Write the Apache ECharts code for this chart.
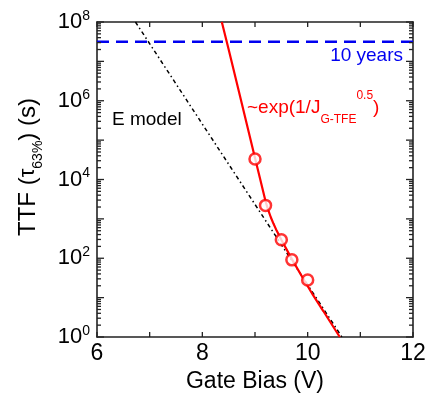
<!DOCTYPE html>
<html>
<head>
<meta charset="utf-8">
<script src="https://cdn.jsdelivr.net/npm/echarts@6/dist/echarts.min.js"></script>
<style>
  html, body { margin: 0; padding: 0; background: #fff; }
  #chart { width: 433px; height: 401px; }
</style>
</head>
<body>
<div id="chart"></div>
<script>
const FONT = '"Liberation Sans", Arial, Helvetica, sans-serif';

// Measured 63% time-to-failure (s) at each gate bias (V)
const measuredBias = [9.0, 9.2, 9.5, 9.7, 10.0];
const measuredTTF = [3.3e4, 2.2e3, 295, 91, 28];

// ~exp(1/J_G-TFE^0.5) lifetime curve
const fitBias = [8.37, 8.5, 8.7, 8.9, 9.0, 9.1, 9.2, 9.25, 9.3, 9.35, 9.4, 9.45, 9.5, 9.7, 9.9, 10.1, 10.3, 10.61];
const fitTTF = [1e8, 2.0e7, 1.6e6, 1.26e5, 3.5e4, 1.0e4, 2.8e3, 1.7e3, 1.1e3, 760, 540, 400, 295, 95, 33, 11.7, 4.5, 1];

// E-model extrapolation
const eModelBias = [6.73, 10.65];
const eModelTTF = [1e8, 1];

// 10-year lifetime target (s)
const targetBias = [6, 12];
const targetTTF = [3.15e7, 3.15e7];

// Axis ranges and ticks
const xMin = 6, xMax = 12, xStep = 1;
const xTickValues = [6, 7, 8, 9, 10, 11, 12];
const xLabelled = [6, 8, 10, 12];
const yMin = 1, yMax = 1e8;
const yMajorExp = [0, 1, 2, 3, 4, 5, 6, 7, 8];
const yLabelledExp = [0, 2, 4, 6, 8];
const minorMantissas = [2, 3, 4, 5, 6, 7, 8, 9];

const zip = (a, b) => a.map((v, i) => [v, b[i]]);

const AXIS_COLOR = '#222';
const RED = '#ff0000';
const BLUE = '#0000f0';

const chart = echarts.init(document.getElementById('chart'), null, { renderer: 'canvas' });

const frameAxis = (extra) => Object.assign({
  splitLine: { show: false },
  axisTick: { show: false },
  axisLine: { show: true, onZero: false, lineStyle: { color: AXIS_COLOR, width: 1.6 } }
}, extra);

chart.setOption({
  animation: false,
  backgroundColor: '#fff',
  grid: { left: 97, right: 20, top: 22, bottom: 64, containLabel: false },
  xAxis: [
    frameAxis({
      type: 'value', min: xMin, max: xMax, interval: xStep, position: 'bottom',
      name: 'Gate Bias (V)', nameLocation: 'middle', nameGap: 31,
      nameTextStyle: { fontFamily: FONT, fontSize: 23, color: '#000' },
      axisLabel: {
        margin: 5, fontFamily: FONT, fontSize: 23, color: '#000',
        formatter: v => (xLabelled.indexOf(v) >= 0 ? String(v) : '')
      }
    }),
    frameAxis({ type: 'value', min: xMin, max: xMax, interval: xStep, position: 'top', axisLabel: { show: false } })
  ],
  yAxis: [
    frameAxis({
      type: 'log', logBase: 10, min: yMin, max: yMax, interval: 1, position: 'left',
      axisLabel: {
        margin: 7, color: '#000',
        formatter: v => {
          const e = Math.round(Math.log10(v));
          return yLabelledExp.indexOf(e) >= 0 ? '{b|10}{e|' + e + '}' : '';
        },
        rich: {
          b: { fontFamily: FONT, fontSize: 22, lineHeight: 26, color: '#000' },
          e: { fontFamily: FONT, fontSize: 14, lineHeight: 14, verticalAlign: 'top', color: '#000' }
        }
      }
    }),
    frameAxis({ type: 'log', logBase: 10, min: yMin, max: yMax, interval: 1, position: 'right', axisLabel: { show: false } })
  ],
  series: [
    {
      type: 'line', name: '10 years',
      data: zip(targetBias, targetTTF),
      symbol: 'none',
      lineStyle: { color: BLUE, width: 2.6, type: [12, 7] }
    },
    {
      type: 'line', name: 'E model',
      data: zip(eModelBias, eModelTTF),
      symbol: 'none',
      lineStyle: { color: '#000', width: 1.5, type: [4, 3, 1.5, 3] }
    },
    {
      type: 'line', name: 'fit',
      data: zip(fitBias, fitTTF),
      symbol: 'none',
      lineStyle: { color: RED, width: 2.2 }
    },
    {
      type: 'scatter', name: 'measured',
      data: zip(measuredBias, measuredTTF),
      symbol: 'circle', symbolSize: 11,
      itemStyle: { color: '#fff', borderColor: RED, borderWidth: 2.5 },
      z: 5
    }
  ]
});

// Inward ticks on all four sides of the frame, placed through the axis scales
const toPxX = v => chart.convertToPixel({ xAxisIndex: 0 }, v);
const toPxY = v => chart.convertToPixel({ yAxisIndex: 0 }, v);
const frameLeft = toPxX(xMin), frameRight = toPxX(xMax);
const frameTop = toPxY(yMax), frameBottom = toPxY(yMin);
const tickStyle = { stroke: AXIS_COLOR, lineWidth: 1.3 };
const tickLine = (x1, y1, x2, y2) => ({ type: 'line', silent: true, z: 10, shape: { x1, y1, x2, y2 }, style: tickStyle });

const frameTicks = [];
xTickValues.forEach(v => {
  const x = toPxX(v);
  frameTicks.push(tickLine(x, frameBottom, x, frameBottom - 5));
  frameTicks.push(tickLine(x, frameTop, x, frameTop + 5));
});
yMajorExp.forEach(e => {
  const y = toPxY(Math.pow(10, e));
  frameTicks.push(tickLine(frameLeft, y, frameLeft + 7, y));
  frameTicks.push(tickLine(frameRight, y, frameRight - 7, y));
});
yMajorExp.slice(0, -1).forEach(e => {
  minorMantissas.forEach(m => {
    const y = toPxY(m * Math.pow(10, e));
    frameTicks.push(tickLine(frameLeft, y, frameLeft + 4, y));
    frameTicks.push(tickLine(frameRight, y, frameRight - 4, y));
  });
});

const annotations = [
  {
    type: 'text', x: 28, y: 167, rotation: Math.PI / 2, z: 10,
    style: {
      text: '{a|TTF (}{t|τ}{s|63%}{a|) (s)}',
      align: 'center', verticalAlign: 'middle',
      rich: {
        a: { fontFamily: FONT, fontSize: 24, lineHeight: 34, fill: '#000' },
        t: { fontFamily: FONT, fontSize: 22, lineHeight: 34, fill: '#000' },
        s: { fontFamily: FONT, fontSize: 14, lineHeight: 14, verticalAlign: 'bottom', fill: '#000' }
      }
    }
  },
  {
    type: 'text', x: 403, y: 56, z: 10,
    style: { text: '10 years', fontFamily: FONT, fontSize: 19, fill: BLUE, align: 'right', verticalAlign: 'middle' }
  },
  {
    type: 'text', x: 247, y: 107.5, z: 10,
    style: {
      text: '{a|~exp(1/J}{s|G-TFE}{p|0.5}{a|)}',
      align: 'left', verticalAlign: 'middle',
      rich: {
        a: { fontFamily: FONT, fontSize: 19, lineHeight: 36, fill: RED },
        s: { fontFamily: FONT, fontSize: 12, lineHeight: 20, verticalAlign: 'bottom', fill: RED },
        p: { fontFamily: FONT, fontSize: 12, lineHeight: 20, verticalAlign: 'top', fill: RED }
      }
    }
  },
  {
    type: 'text', x: 112, y: 120, z: 10,
    style: { text: 'E model', fontFamily: FONT, fontSize: 19, fill: '#000', align: 'left', verticalAlign: 'middle' }
  }
];

chart.setOption({ graphic: frameTicks.concat(annotations) });
</script>
</body>
</html>
